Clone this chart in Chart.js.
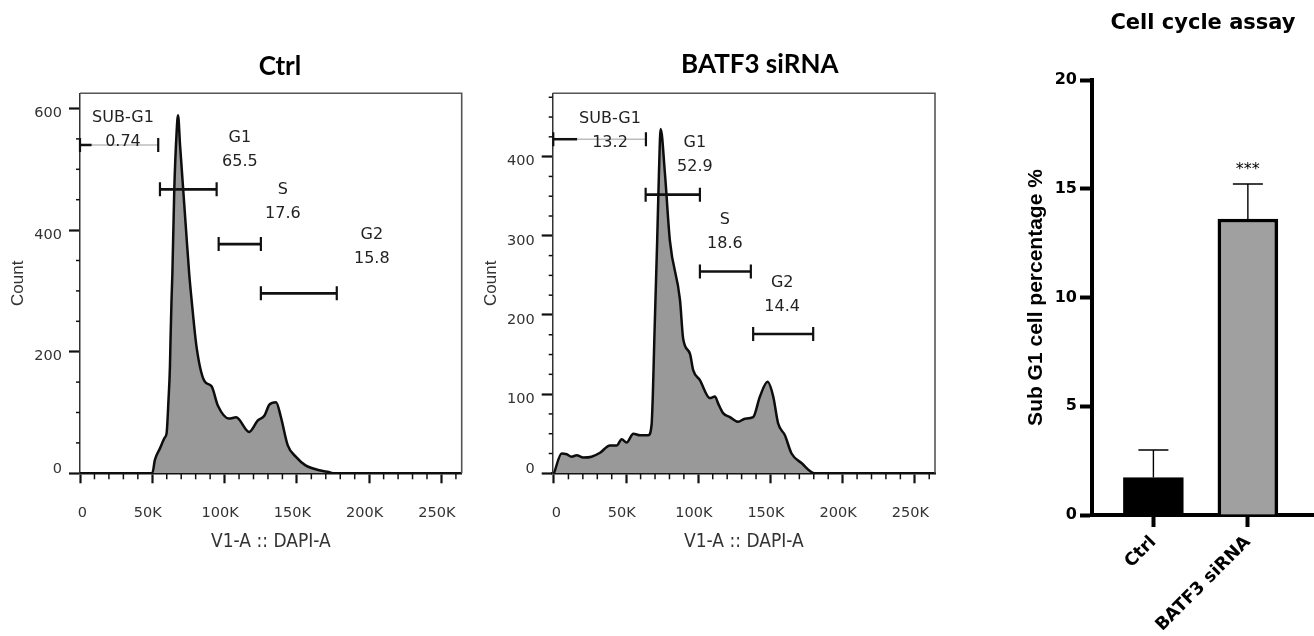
<!DOCTYPE html>
<html><head><meta charset="utf-8">
<script src="https://cdn.jsdelivr.net/npm/chart.js@4.4.1/dist/chart.umd.min.js"></script>
<style>
html,body{margin:0;padding:0;background:#fff;width:1314px;height:636px;overflow:hidden;}
.panel{position:absolute;top:0;height:636px;}
canvas{display:block;}
</style></head><body>
<div class="panel" style="left:0;width:470px"><canvas id="c1" width="470" height="636"></canvas></div>
<div class="panel" style="left:470px;width:480px"><canvas id="c2" width="480" height="636"></canvas></div>
<div class="panel" style="left:1000px;width:314px"><canvas id="c3" width="314" height="636"></canvas></div>
<script>
// ---------------- data ----------------
const histTitles = ['Ctrl', 'BATF3 siRNA'];
const xAxisTitle = 'V1-A :: DAPI-A';
const yAxisTitle = 'Count';
const dapiTicksK = [0, 50, 100, 150, 200, 250];
const ctrlCountTicks = [0, 200, 400, 600];
const batfCountTicks = [0, 100, 200, 300, 400];

// Ctrl histogram (DAPI-A in thousands, count)
const ctrlDapiK = [0, 50, 51.8, 55.3, 58.7, 59.9, 61.2, 62.2, 62.6, 63.3, 63.9, 65.2, 66.8, 67.8, 69.2, 71.4, 73.5, 75.5, 77.2, 80.6, 86, 91, 95.4, 103, 108, 117, 123, 127.6, 131, 135.6, 139, 143.7, 149.4, 156, 165.5, 172, 176, 264];
const ctrlCount = [0, 0, 22, 41, 59, 66, 120, 175, 219, 285, 329, 466, 560, 589, 540, 466, 395, 329, 285, 208, 152, 143, 111, 90, 92, 68, 87, 95, 113, 117, 92, 46, 27, 13, 5, 2, 0, 0];

// BATF3 siRNA histogram
const batfDapiK = [0, 5.3, 8.8, 12.2, 15.7, 20.3, 26, 31.9, 38.8, 43.4, 46.9, 50.3, 55, 59.6, 65.3, 67.6, 68.5, 69.5, 70.3, 71.5, 72.7, 73.9, 76.9, 80.3, 87.3, 89.5, 94.2, 96.5, 101, 108, 111.5, 113.8, 117.2, 121.9, 127.6, 132.3, 138, 142.7, 148, 151.9, 155.3, 160, 164.6, 171.5, 180.7, 264];
const batfCount = [0, 25, 24, 21, 22.7, 20, 21, 26, 35, 35, 43, 39, 50, 48, 48, 61, 100, 168, 219, 294, 378, 435, 378, 294, 219, 170, 151, 130, 118, 95, 97, 88, 76, 71, 65, 69, 71, 97, 115.5, 97, 63, 48, 25, 13, 0, 0];

// gates
const gateNames = ['SUB-G1', 'G1', 'S', 'G2'];
const ctrlGatePct = ['0.74', '65.5', '17.6', '15.8'];
const ctrlGateFromK = [0, 55.3, 95.9, 125.1];
const ctrlGateToK = [54.1, 94.5, 125.1, 177.6];
const ctrlGateLevel = [540, 467, 377, 296];
const ctrlLabelK = [29.7, 110.6, 140.3, 201.8];
const ctrlLabelCount = [584, 551, 467, 392];

const batfGatePct = ['13.2', '52.9', '18.6', '14.4'];
const batfGateFromK = [-0.5, 63.5, 101.1, 138];
const batfGateToK = [63.7, 101.1, 136.4, 179.6];
const batfGateLevel = [422, 352, 255, 176];
const batfLabelK = [38.8, 97.6, 118.4, 158.1];
const batfLabelCount = [447.5, 418, 320, 241];

// bar chart
const barTitle = 'Cell cycle assay';
const barCategories = ['Ctrl', 'BATF3 siRNA'];
const subG1Mean = [1.72, 13.61];
const subG1Err = [1.27, 1.61];
const subG1Sig = ['', '***'];
const barYTicks = [0, 5, 10, 15, 20];
const barYTitle = 'Sub G1 cell percentage %';

// ---------------- helpers ----------------
function minorSteps(from, to, step, skip) {
  const a = [];
  for (let v = from; v <= to + 1e-9; v += step) if (Math.abs(v % skip) > 1e-9) a.push(v);
  return a;
}

const histPlugin = {
  id: 'histExtras',
  afterDatasetsDraw(chart, args, o) {
    const {ctx, chartArea: a, scales: {x, y}} = chart;
    ctx.save();
    // frame top & right
    ctx.strokeStyle = '#555'; ctx.lineWidth = 1.6;
    ctx.beginPath(); ctx.moveTo(a.left, a.top); ctx.lineTo(a.right, a.top); ctx.lineTo(a.right, a.bottom); ctx.stroke();
    // minor ticks
    ctx.strokeStyle = '#111'; ctx.lineWidth = 1.5;
    o.xMinor.forEach(v => { const px = x.getPixelForValue(v); ctx.beginPath(); ctx.moveTo(px, a.bottom); ctx.lineTo(px, a.bottom + 6); ctx.stroke(); });
    o.yMinor.forEach(v => { const py = y.getPixelForValue(v); ctx.beginPath(); ctx.moveTo(a.left, py); ctx.lineTo(a.left - 4, py); ctx.stroke(); });
    // gates
    const g = o.gates;
    for (let i = 0; i < g.from.length; i++) {
      const x1 = x.getPixelForValue(g.from[i]), x2 = x.getPixelForValue(g.to[i]), py = y.getPixelForValue(g.level[i]);
      ctx.lineCap = 'butt';
      if (i === 0) {
        ctx.strokeStyle = '#bdbdbd'; ctx.lineWidth = 1.6;
        ctx.beginPath(); ctx.moveTo(x1, py); ctx.lineTo(x2, py); ctx.stroke();
        ctx.strokeStyle = '#111'; ctx.lineWidth = 2.5;
        ctx.beginPath(); ctx.moveTo(x1, py); ctx.lineTo(x.getPixelForValue(g.darkTo), py); ctx.stroke();
      } else {
        ctx.strokeStyle = '#111'; ctx.lineWidth = 2.6;
        ctx.beginPath(); ctx.moveTo(x1, py); ctx.lineTo(x2, py); ctx.stroke();
      }
      ctx.strokeStyle = '#111'; ctx.lineWidth = 2.2;
      ctx.beginPath(); ctx.moveTo(x1, py - 7); ctx.lineTo(x1, py + 7); ctx.moveTo(x2, py - 7); ctx.lineTo(x2, py + 7); ctx.stroke();
      // labels
      ctx.fillStyle = '#222'; ctx.font = '16px "DejaVu Sans"'; ctx.textAlign = 'center'; ctx.textBaseline = 'middle';
      const lx = x.getPixelForValue(g.labelX[i]), ly = y.getPixelForValue(g.labelY[i]);
      ctx.fillText(g.names[i], lx, ly);
      ctx.fillText(g.pct[i], lx, ly + 24);
    }
    // panel title
    ctx.fillStyle = '#000'; ctx.font = 'bold 26px Lato'; ctx.textAlign = 'center'; ctx.textBaseline = 'alphabetic';
    ctx.fillText(o.title, x.getPixelForValue(o.titleAtK), a.top - o.titleRise);
    ctx.restore();
  }
};

function histConfig(p) {
  return {
    type: 'line',
    data: { datasets: [{
      data: p.xs.map((v, i) => ({x: v, y: p.ys[i]})),
      fill: 'origin', backgroundColor: '#999999', borderColor: '#0d0d0d', borderWidth: 2.5,
      pointRadius: 0, cubicInterpolationMode: 'monotone'
    }]},
    plugins: [histPlugin],
    options: {
      responsive: false, animation: false, events: [],
      layout: { padding: {left: 0, right: p.padRight, top: 93.3, bottom: 72.7} },
      plugins: {
        legend: {display: false}, tooltip: {enabled: false},
        histExtras: {
          xMinor: minorSteps(10, 260, 10, 50), yMinor: p.yMinor,
          gates: p.gates, title: p.title, titleAtK: p.titleAtK, titleRise: p.titleRise
        }
      },
      scales: {
        x: {
          type: 'linear', min: p.xMin, max: 264,
          afterBuildTicks: s => { s.ticks = dapiTicksK.map(v => ({value: v})); },
          afterFit: s => { s.height = 90; s.paddingLeft = 0; s.paddingRight = 0; },
          ticks: {
            callback: v => v === 0 ? '   0' : v + 'K',
            font: {family: 'DejaVu Sans', size: 14.5}, color: '#333',
            padding: 21, maxRotation: 0, minRotation: 0, autoSkip: false, labelOffset: -4.5
          },
          grid: {drawOnChartArea: false, drawTicks: true, tickLength: 10, tickWidth: 2.2, tickColor: '#111'},
          border: {display: true, color: '#111', width: 2.5},
          title: {display: true, text: xAxisTitle, color: '#333',
                  font: {family: '"Liberation Sans Narrow", "DejaVu Sans Condensed", sans-serif', size: 19},
                  padding: {top: 0, bottom: 10}}
        },
        y: {
          min: 0, max: p.yMax,
          afterBuildTicks: s => { s.ticks = p.yTicks.map(v => ({value: v})); },
          afterFit: s => { s.width = p.yWidth; s.paddingTop = 0; s.paddingBottom = 0; },
          ticks: {
            callback: v => v === 0 ? ['0', ''] : String(v),
            font: {family: 'DejaVu Sans', size: 14.5}, color: '#333', padding: 7, labelOffset: 5
          },
          grid: {drawOnChartArea: false, drawTicks: true, tickLength: 11, tickWidth: 2.2, tickColor: '#111'},
          border: {display: true, color: '#333', width: 1.5},
          title: {display: true, text: yAxisTitle, color: '#333',
                  font: {family: 'Liberation Sans', size: 17}, padding: {top: p.yTitlePad, bottom: 0}}
        }
      }
    }
  };
}

new Chart(document.getElementById('c1'), histConfig({
  xs: ctrlDapiK, ys: ctrlCount, xMin: 0, yMax: 625, yTicks: ctrlCountTicks,
  yMinor: minorSteps(50, 600, 50, 200), padRight: 8.3, yWidth: 80, yTitlePad: 8.1,
  title: histTitles[0], titleAtK: 138.3, titleRise: 18.5,
  gates: {names: gateNames, pct: ctrlGatePct, from: ctrlGateFromK, to: ctrlGateToK, level: ctrlGateLevel,
          labelX: ctrlLabelK, labelY: ctrlLabelCount, darkTo: 8}
}));

new Chart(document.getElementById('c2'), histConfig({
  xs: batfDapiK, ys: batfCount, xMin: -0.9, yMax: 480, yTicks: batfCountTicks,
  yMinor: minorSteps(25, 475, 25, 100), padRight: 15, yWidth: 82.7, yTitlePad: 11.5,
  title: histTitles[1], titleAtK: 142.6, titleRise: 20.5,
  gates: {names: gateNames, pct: batfGatePct, from: batfGateFromK, to: batfGateToK, level: batfGateLevel,
          labelX: batfLabelK, labelY: batfLabelCount, darkTo: 16}
}));

// ---------------- bar chart ----------------
const errPlugin = {
  id: 'errBars',
  afterDatasetsDraw(chart, args, o) {
    const {ctx, scales: {x, y}} = chart;
    ctx.save();
    ctx.strokeStyle = '#000'; ctx.lineWidth = 1.4;
    o.means.forEach((m, i) => {
      const px = x.getPixelForValue(i), yb = y.getPixelForValue(m), yt = y.getPixelForValue(m + o.errs[i]);
      ctx.beginPath(); ctx.moveTo(px, yb); ctx.lineTo(px, yt); ctx.moveTo(px - 15, yt); ctx.lineTo(px + 15, yt); ctx.stroke();
      if (o.sig[i]) {
        ctx.fillStyle = '#000'; ctx.font = '16px "DejaVu Sans"'; ctx.textAlign = 'center'; ctx.textBaseline = 'middle';
        ctx.fillText(o.sig[i], px, yt - 14);
      }
    });
    ctx.restore();
  }
};

new Chart(document.getElementById('c3'), {
  type: 'bar',
  data: { datasets: [{
    data: barCategories.map((c, i) => ({x: i, y: subG1Mean[i]})),
    backgroundColor: ['#000000', '#a0a0a0'], borderColor: '#000', borderWidth: 3.5,
    borderSkipped: 'bottom', barThickness: 60
  }]},
  plugins: [errPlugin],
  options: {
    responsive: false, animation: false, events: [],
    layout: { padding: {left: 0, right: 0, top: 0, bottom: 0} },
    plugins: {
      legend: {display: false}, tooltip: {enabled: false},
      title: {display: true, text: barTitle, fullSize: false, color: '#000',
              font: {family: 'DejaVu Sans', weight: 'bold', size: 21}, padding: {top: 10.7, bottom: 44.1}},
      errBars: {means: subG1Mean, errs: subG1Err, sig: subG1Sig}
    },
    scales: {
      x: {
        type: 'linear', min: -0.65, max: 1.7, offset: false,
        afterBuildTicks: s => { s.ticks = barCategories.map((c, i) => ({value: i})); },
        afterFit: s => { s.height = 121; },
        ticks: {callback: v => barCategories[v], autoSkip: false, maxRotation: 45, minRotation: 45,
                font: {family: 'DejaVu Sans', weight: 'bold', size: 17.5}, color: '#000', padding: 5},
        grid: {drawOnChartArea: false, offset: false, drawTicks: true, tickLength: 12, tickWidth: 4, tickColor: '#000'},
        border: {display: true, color: '#000', width: 4}
      },
      y: {
        min: 0, max: 20,
        afterBuildTicks: s => { s.ticks = barYTicks.map(v => ({value: v})); },
        afterFit: s => { s.width = 92; },
        ticks: {font: {family: 'DejaVu Sans', weight: 'bold', size: 16}, color: '#000', padding: 3},
        grid: {drawOnChartArea: false, drawTicks: true, tickLength: 12, tickWidth: 4, tickColor: '#000'},
        border: {display: true, color: '#000', width: 4},
        title: {display: true, text: barYTitle, color: '#000',
                font: {family: 'Liberation Sans', weight: 'bold', size: 21}, padding: {top: 24, bottom: 0}}
      }
    }
  }
});
</script>
</body></html>
